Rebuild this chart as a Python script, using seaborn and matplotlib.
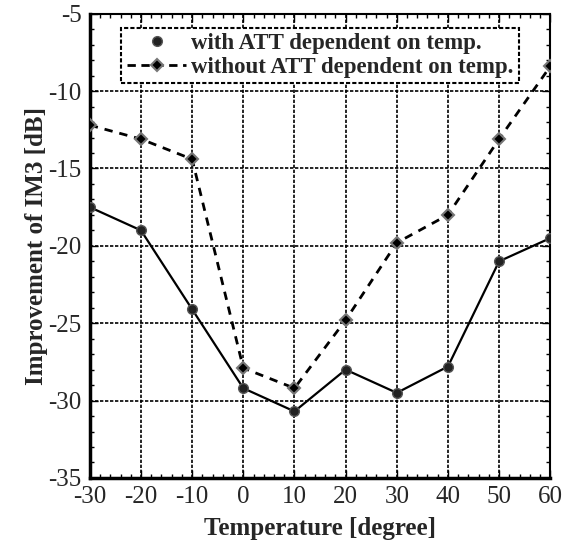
import numpy as np
import pandas as pd
import matplotlib
matplotlib.use("Agg")
import matplotlib.pyplot as plt
import seaborn as sns
from matplotlib.lines import Line2D
from matplotlib.ticker import MultipleLocator

# Data
temperature = [-30, -20, -10, 0, 10, 20, 30, 40, 50, 60]
with_att = [-17.5, -19.0, -24.1, -29.2, -30.7, -28.0, -29.5, -27.8, -21.0, -19.5]
without_att = [-12.2, -13.1, -14.4, -27.9, -29.2, -24.8, -19.8, -18.0, -13.1, -8.4]

label_with = "with ATT dependent on temp."
label_without = "without ATT dependent on temp."

sns.set_theme(style="ticks")
plt.rcParams['font.family'] = ['Liberation Serif', 'DejaVu Serif']
plt.rcParams['axes.unicode_minus'] = False

df_with = pd.DataFrame({"temp": temperature, "im3": with_att})
df_without = pd.DataFrame({"temp": temperature, "im3": without_att})

fig = plt.figure(figsize=(5.72, 5.5), dpi=100)
ax = fig.add_axes([0.157, 0.131, 0.805, 0.844])

sns.lineplot(data=df_without, x="temp", y="im3", ax=ax, color="black",
             linestyle=(0, (3, 2.5)), linewidth=2, marker="D", markersize=6.5,
             markerfacecolor="black", markeredgecolor="#777777",
             markeredgewidth=1.5, zorder=3)
sns.lineplot(data=df_with, x="temp", y="im3", ax=ax, color="black",
             linewidth=1.6, marker="o", markersize=7,
             markerfacecolor="#222222", markeredgecolor="#555555",
             markeredgewidth=1, zorder=4)

ax.set_xlim(-30, 60)
ax.set_ylim(-35, -5)
ax.xaxis.set_major_locator(MultipleLocator(10))
ax.xaxis.set_minor_locator(MultipleLocator(2))
ax.yaxis.set_major_locator(MultipleLocator(5))
ax.yaxis.set_minor_locator(MultipleLocator(1))
ax.tick_params(which="both", direction="in", top=True, right=True,
               color="black")
ax.tick_params(which="major", length=6, width=1, labelsize=18, pad=6)
ax.tick_params(which="minor", length=3, width=1)
ax.grid(which="major", color="black", linestyle=(0, (2, 1)), linewidth=1.2)

for side in ["left", "bottom"]:
    ax.spines[side].set_linewidth(2.5)
for side in ["top", "right"]:
    ax.spines[side].set_linewidth(1.5)
    ax.spines[side].set_linestyle((0, (2, 1)))
for s in ax.spines.values():
    s.set_color("black")

ax.set_xlabel("Temperature [degree]", fontsize=18, fontweight="bold", labelpad=6)
ax.set_ylabel("Improvement of IM3 [dB]", fontsize=18, fontweight="bold", labelpad=0)

handles = [
    Line2D([], [], linestyle="none", marker="o", markersize=7,
           markerfacecolor="#222222", markeredgecolor="#555555"),
    Line2D([], [], color="black", linestyle=(0, (3, 2)), linewidth=2,
           marker="D", markersize=6.5, markerfacecolor="black",
           markeredgecolor="#777777", markeredgewidth=1.5),
]
leg = ax.legend(handles, [label_with, label_without], loc="upper center",
                bbox_to_anchor=(0.5, 0.98), frameon=True, fancybox=False,
                prop={"weight": "bold", "size": 16.5}, handlelength=2.6,
                handletextpad=0.2, borderpad=0.25, labelspacing=0.1,
                borderaxespad=0.2)
frame = leg.get_frame()
frame.set_edgecolor("black")
frame.set_linewidth(1.5)
frame.set_linestyle((0, (2, 1)))
frame.set_alpha(1)

fig.savefig("out.png", dpi=100)
